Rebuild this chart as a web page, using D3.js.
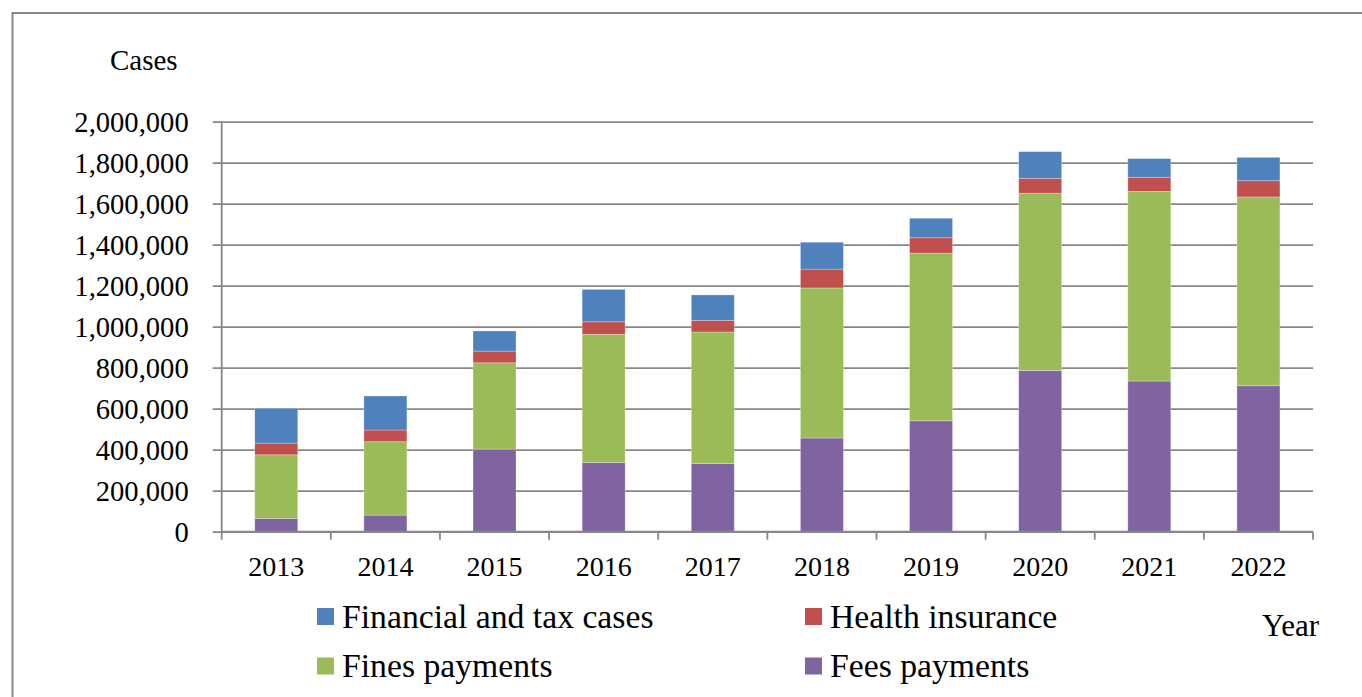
<!DOCTYPE html>
<html>
<head>
<meta charset="utf-8">
<script src="https://cdn.jsdelivr.net/npm/d3@7"></script>
<style>
  html, body { margin: 0; padding: 0; background: #fff; overflow: hidden; }
  svg { display: block; }
</style>
</head>
<body>
<svg id="chart"></svg>
<script>
const width = 1362;
const height = 697;

// data
const years = ["2013", "2014", "2015", "2016", "2017", "2018", "2019", "2020", "2021", "2022"];
const feesPayments = [65000, 81000, 403000, 338000, 332000, 457000, 541000, 787000, 735000, 712000];
const finesPayments = [310000, 358000, 421000, 625000, 642000, 732000, 818000, 864000, 925000, 921000];
const healthInsurance = [57000, 57000, 57000, 61000, 57000, 92000, 75000, 73000, 69000, 79000];
const financialTax = [170000, 166000, 98000, 158000, 124000, 131000, 95000, 130000, 91000, 114000];
const yTicks = [0, 200000, 400000, 600000, 800000, 1000000, 1200000, 1400000, 1600000, 1800000, 2000000];

// stack order bottom -> top
const seriesKeys = ["fees", "fines", "health", "financial"];
const seriesNames = {
  fees: "Fees payments",
  fines: "Fines payments",
  health: "Health insurance",
  financial: "Financial and tax cases"
};
const colors = {
  fees: "#8064A2",
  fines: "#9BBB59",
  health: "#C0504D",
  financial: "#4F81BD"
};

const table = years.map((y, i) => ({
  year: y,
  fees: feesPayments[i],
  fines: finesPayments[i],
  health: healthInsurance[i],
  financial: financialTax[i]
}));

const font = "'Liberation Serif', 'Times New Roman', serif";
const gridColor = "#878787";

const svg = d3.select("#chart")
  .attr("width", width)
  .attr("height", height)
  .attr("viewBox", `0 0 ${width} ${height}`);

// outer frame (runs off the right and bottom edges)
svg.append("rect")
  .attr("x", 12.5)
  .attr("y", 13)
  .attr("width", 1400)
  .attr("height", 720)
  .attr("fill", "none")
  .attr("stroke", gridColor)
  .attr("stroke-width", 2);

const plotLeft = 221.7, plotRight = 1313, plotTop = 121.7, plotBottom = 531.7;

const x = d3.scaleBand()
  .domain(years)
  .range([plotLeft, plotRight])
  .paddingInner(0.606)
  .paddingOuter(0.303);

const y = d3.scaleLinear()
  .domain([0, 2000000])
  .range([plotBottom, plotTop]);

// gridlines + y axis
const yAxis = d3.axisLeft(y)
  .tickValues(yTicks)
  .tickSize(plotRight - plotLeft)
  .tickFormat(d3.format(","));

const gy = svg.append("g")
  .attr("transform", `translate(${plotRight},0)`)
  .call(yAxis);
gy.select(".domain").remove();
gy.selectAll(".tick line")
  .attr("x2", -(plotRight - plotLeft) - 9)
  .attr("stroke", gridColor)
  .attr("stroke-width", 1.8);
gy.selectAll(".tick text")
  .attr("x", -(plotRight - plotLeft) - 33)
  .attr("dy", "0.34em")
  .style("font-family", font)
  .style("font-size", "28.6px")
  .attr("fill", "#000");

// y axis line
svg.append("line")
  .attr("x1", plotLeft).attr("x2", plotLeft)
  .attr("y1", plotTop).attr("y2", plotBottom)
  .attr("stroke", gridColor)
  .attr("stroke-width", 1.8);

// stacked bars
const stack = d3.stack().keys(seriesKeys);
const stacked = stack(table);

svg.append("g")
  .selectAll("g")
  .data(stacked)
  .join("g")
  .attr("fill", (d) => colors[d.key])
  .selectAll("rect")
  .data((d) => d)
  .join("rect")
  .attr("x", (d) => x(d.data.year))
  .attr("y", (d) => y(d[1]))
  .attr("width", x.bandwidth())
  .attr("height", (d) => y(d[0]) - y(d[1]))
  .attr("stroke", "#ffffff")
  .attr("stroke-opacity", 0.35)
  .attr("stroke-width", 0.8);

// x axis
const xEdges = years.map((d) => x(d) - x.step() * x.paddingInner() / 2).concat([plotRight]);
svg.append("line")
  .attr("x1", plotLeft).attr("x2", plotRight)
  .attr("y1", plotBottom).attr("y2", plotBottom)
  .attr("stroke", gridColor)
  .attr("stroke-width", 1.8);
svg.append("g")
  .selectAll("line")
  .data(xEdges)
  .join("line")
  .attr("x1", (d) => d).attr("x2", (d) => d)
  .attr("y1", plotBottom).attr("y2", plotBottom + 8)
  .attr("stroke", gridColor)
  .attr("stroke-width", 1.8);

svg.append("g")
  .selectAll("text")
  .data(years)
  .join("text")
  .attr("x", (d) => x(d) + x.bandwidth() / 2)
  .attr("y", 576)
  .attr("text-anchor", "middle")
  .style("font-family", font)
  .style("font-size", "28px")
  .text((d) => d);

// axis titles
svg.append("text")
  .attr("x", 110)
  .attr("y", 70)
  .style("font-family", font)
  .style("font-size", "29px")
  .text("Cases");

svg.append("text")
  .attr("x", 1262)
  .attr("y", 636)
  .style("font-family", font)
  .style("font-size", "31px")
  .text("Year");

// legend
const legendItems = [
  { key: "financial", x: 317, y: 608 },
  { key: "health", x: 805, y: 608 },
  { key: "fines", x: 317, y: 657.5 },
  { key: "fees", x: 805, y: 657.5 }
];

const legend = svg.append("g")
  .selectAll("g")
  .data(legendItems)
  .join("g")
  .attr("transform", (d) => `translate(${d.x},${d.y})`);

legend.append("rect")
  .attr("width", 17)
  .attr("height", 17)
  .attr("fill", (d) => colors[d.key]);

legend.append("text")
  .attr("x", 25)
  .attr("y", 19.5)
  .style("font-family", font)
  .style("font-size", "33.7px")
  .text((d) => seriesNames[d.key]);
</script>
</body>
</html>
